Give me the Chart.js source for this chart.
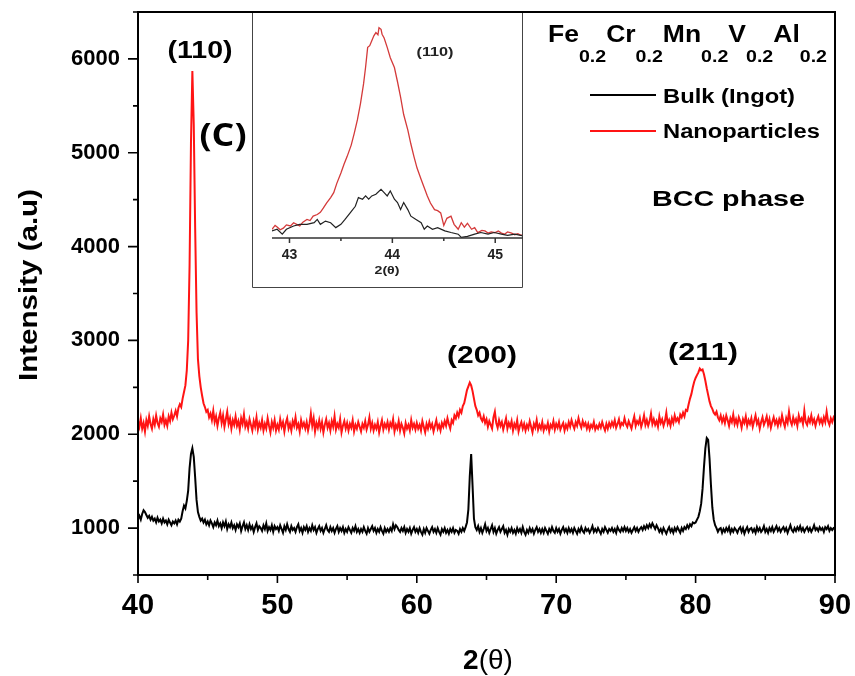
<!DOCTYPE html>
<html>
<head>
<meta charset="utf-8">
<script src="https://cdn.jsdelivr.net/npm/chart.js@4.4.1/dist/chart.umd.min.js"></script>
<style>
  html, body { margin: 0; padding: 0; background: #fff; }
  #wrap { position: relative; width: 855px; height: 676px; }
  #main { position: absolute; left: 0; top: 0; }
  #inset { position: absolute; left: 252px; top: 13px; background: #fff; }
</style>
</head>
<body>
<div id="wrap">
  <canvas id="main" width="855" height="676"></canvas>
  <canvas id="inset" width="271" height="275"></canvas>
</div>
<script>
// scan grid of the main pattern: 2theta from 40 to 90 in 0.1 deg steps
const scanStart = 40;
const scanStep = 0.1;

// Bulk (Ingot), one row per degree
const bulkCounts = [
  1100, 1130, 1090, 1150, 1190, 1170, 1140, 1110, 1130, 1090,
  1120, 1080, 1100, 1060, 1110, 1070, 1090, 1050, 1100, 1060,
  1080, 1040, 1090, 1060, 1030, 1070, 1050, 1080, 1040, 1090,
  1070, 1100, 1180, 1240, 1210, 1290, 1400, 1640, 1790, 1850,
  1760, 1540, 1300, 1170, 1120, 1080, 1100, 1060, 1090, 1040,
  1070, 1030, 1080, 1050, 1010, 1060, 1030, 1080, 1020, 1050,
  1000, 1060, 1020, 1070, 990, 1040, 1010, 1060, 1000, 1030,
  980, 1040, 1010, 1050, 970, 1020, 1060, 990, 1030, 980,
  1040, 990, 1020, 960, 1010, 1050, 980, 1020, 1000, 970,
  1030, 990, 1050, 970, 1010, 980, 1030, 960, 1020, 990,
  1010, 970, 1030, 990, 950, 1020, 980, 1040, 990, 960,
  1020, 980, 1000, 960, 1010, 1040, 970, 1000, 950, 1010,
  980, 1020, 960, 1000, 970, 1030, 980, 1010, 950, 990,
  1020, 970, 1000, 950, 990, 1030, 980, 960, 1010, 970,
  1000, 950, 990, 1020, 960, 1000, 970, 1010, 950, 990,
  960, 1010, 980, 950, 1000, 970, 1020, 960, 990, 950,
  990, 960, 1010, 970, 940, 1000, 960, 990, 1020, 970,
  1000, 950, 990, 960, 1010, 970, 940, 1000, 960, 990,
  960, 1000, 970, 1040, 990, 1030, 1010, 980, 960, 1000,
  970, 1010, 950, 990, 960, 1000, 940, 980, 1010, 960,
  990, 950, 1000, 960, 930, 990, 950, 1000, 970, 940,
  980, 1010, 960, 990, 950, 1000, 960, 930, 990, 960,
  1000, 950, 980, 940, 990, 960, 1000, 950, 980, 970,
  940, 990, 960, 1000, 970, 1010, 1060, 1200, 1550, 1790,
  1450, 1100, 1010, 980, 1020, 960, 1000, 950, 990, 1040,
  970, 1000, 950, 990, 1030, 960, 1000, 940, 980, 1010,
  960, 990, 1020, 950, 980, 930, 990, 960, 1000, 950,
  980, 940, 1000, 960, 990, 950, 1010, 960, 930, 980,
  950, 1000, 960, 990, 940, 980, 1010, 960, 990, 950,
  990, 950, 1000, 970, 940, 990, 960, 1010, 970, 950,
  1000, 960, 990, 940, 980, 1010, 960, 990, 950, 1000,
  960, 990, 950, 1000, 970, 940, 990, 960, 1010, 970,
  950, 1000, 970, 990, 950, 980, 1020, 960, 990, 960,
  1000, 970, 940, 990, 960, 1010, 980, 950, 990, 970,
  1000, 960, 990, 950, 1010, 980, 960, 1000, 970, 1010,
  970, 1000, 960, 990, 950, 980, 1010, 970, 1000, 960,
  990, 1010, 980, 1020, 990, 1030, 1000, 1040, 1010, 1050,
  1020, 990, 1030, 1000, 960, 990, 950, 1000, 970, 940,
  980, 1010, 960, 990, 950, 1000, 970, 1010, 980, 950,
  1000, 970, 1010, 990, 1030, 1000, 1040, 1020, 1060, 1050,
  1060, 1090, 1120, 1180, 1260, 1420, 1650, 1850, 1960, 1940,
  1740, 1460, 1220, 1090, 1030, 1000, 960, 990, 1000, 950,
  990, 960, 1000, 970, 1010, 950, 990, 960, 1000, 980,
  950, 990, 1010, 960, 1000, 940, 980, 1010, 960, 990,
  1000, 960, 990, 950, 1010, 970, 1000, 960, 980, 1020,
  960, 990, 950, 1000, 970, 1010, 960, 990, 1020, 970,
  1000, 960, 990, 1010, 970, 1000, 950, 990, 1030, 980,
  960, 1000, 970, 1010, 980, 1020, 970, 1000, 960, 990,
  1010, 970, 1000, 960, 990, 1030, 980, 1000, 970, 1010,
  980, 1000, 960, 1010, 990, 1020, 970, 1000, 980, 1000,
  990
];

// Nanoparticles
const nanoCounts = [
  2140, 2080, 2170, 2060, 2120, 2030, 2150, 2090, 2190, 2110,
  2060, 2160, 2100, 2200, 2120, 2080, 2170, 2130, 2210, 2100,
  2150, 2090, 2190, 2140, 2230, 2160, 2200, 2250, 2190, 2280,
  2320, 2290, 2380, 2450, 2520, 2680, 3000, 3800, 5100, 5870,
  5300, 4200, 3300, 2800, 2620, 2500, 2410, 2330, 2290, 2240,
  2260, 2180, 2220, 2150, 2250, 2130, 2190, 2090, 2170, 2230,
  2120, 2200, 2080, 2160, 2240, 2110, 2170, 2060, 2150, 2100,
  2190, 2090, 2140, 2050, 2170, 2110, 2210, 2080, 2130, 2060,
  2160, 2100, 2040, 2140, 2080, 2180, 2050, 2120, 2070, 2150,
  2040, 2110, 2060, 2170, 2090, 2020, 2130, 2070, 2150, 2040,
  2100, 2050, 2160, 2080, 2130, 2030, 2120, 2170, 2060, 2110,
  2040, 2140, 2090, 2180, 2070, 2110, 2030, 2150, 2080, 2120,
  2060, 2130, 2040, 2110, 2220, 2090, 2170, 2030, 2120, 2070,
  2150, 2060, 2130, 2020, 2100, 2160, 2070, 2120, 2040, 2140,
  2080, 2190, 2050, 2110, 2070, 2160, 2020, 2090, 2140, 2060,
  2120, 2040, 2110, 2070, 2150, 2030, 2100, 2060, 2130, 2080,
  2030, 2110, 2070, 2140, 2050, 2100, 2180, 2060, 2120, 2040,
  2100, 2060, 2130, 2020, 2090, 2150, 2050, 2110, 2070, 2130,
  2050, 2120, 2080, 2160, 2030, 2100, 2060, 2140, 2040, 2110,
  2070, 2010, 2120, 2060, 2100, 2040, 2150, 2070, 2110, 2050,
  2120, 2060, 2100, 2040, 2140, 2080, 2020, 2110, 2060, 2130,
  2070, 2110, 2030, 2090, 2150, 2060, 2100, 2040, 2120, 2080,
  2140, 2090, 2170, 2110, 2060, 2150, 2120, 2200, 2170, 2230,
  2190, 2260, 2230, 2300, 2330, 2400, 2470, 2510, 2550, 2520,
  2460, 2380, 2300, 2260, 2200, 2230, 2170, 2140, 2190, 2120,
  2160, 2080, 2140, 2100, 2060, 2180, 2240, 2120, 2070, 2150,
  2090, 2130, 2050, 2110, 2170, 2060, 2120, 2080, 2140, 2040,
  2110, 2070, 2150, 2030, 2090, 2130, 2060, 2110, 2040, 2100,
  2060, 2140, 2080, 2020, 2110, 2070, 2150, 2050, 2100, 2060,
  2130, 2040, 2090, 2060, 2120, 2030, 2100, 2070, 2140, 2050,
  2110, 2070, 2130, 2050, 2090, 2120, 2040, 2100, 2060, 2130,
  2080, 2150, 2100, 2060, 2130, 2090, 2170, 2110, 2070, 2140,
  2090, 2120, 2060, 2110, 2050, 2100, 2070, 2130, 2050, 2090,
  2060, 2110, 2070, 2130, 2080, 2040, 2110, 2060, 2120, 2080,
  2130, 2090, 2150, 2070, 2110, 2160, 2080, 2120, 2100, 2170,
  2110, 2080, 2140, 2100, 2060, 2130, 2190, 2090, 2140, 2110,
  2170, 2080, 2130, 2200, 2100, 2150, 2090, 2140, 2220, 2110,
  2160, 2100, 2140, 2080, 2190, 2120, 2160, 2090, 2140, 2230,
  2110, 2150, 2090, 2170, 2120, 2200, 2140, 2170, 2130, 2210,
  2180, 2230, 2190, 2260, 2250, 2320, 2380, 2430, 2500, 2560,
  2600, 2630, 2660, 2700, 2680, 2690, 2640, 2570, 2490, 2420,
  2350, 2300, 2270, 2230, 2210, 2240, 2180, 2150, 2200, 2130,
  2180, 2120, 2200, 2150, 2090, 2170, 2130, 2210, 2110, 2160,
  2100, 2180, 2140, 2070, 2160, 2120, 2190, 2090, 2150, 2110,
  2170, 2080, 2140, 2200, 2110, 2150, 2060, 2130, 2180, 2100,
  2140, 2190, 2100, 2160, 2070, 2130, 2180, 2110, 2150, 2090,
  2160, 2110, 2200, 2130, 2080, 2170, 2120, 2240, 2140, 2100,
  2180, 2120, 2160, 2090, 2200, 2140, 2170, 2110, 2250, 2130,
  2100, 2170, 2130, 2200, 2120, 2160, 2090, 2150, 2190, 2120,
  2160, 2110, 2180, 2130, 2240, 2140, 2100, 2170, 2130, 2180,
  2150
];

const xTicks = [40, 45, 50, 55, 60, 65, 70, 75, 80, 85, 90];
const yTicks = [500, 1000, 1500, 2000, 2500, 3000, 3500, 4000, 4500, 5000, 5500, 6000, 6500];

// inset: zoom on the (110) reflection
const insetThetaNano = [
  42.83, 42.86, 42.88, 42.91, 42.94, 42.97, 43.01, 43.04, 43.07, 43.10,
  43.13, 43.17, 43.20, 43.23, 43.27, 43.30, 43.33, 43.36, 43.40, 43.43,
  43.46, 43.50, 43.53, 43.56, 43.60, 43.63, 43.66, 43.69, 43.72, 43.74,
  43.76, 43.78, 43.80, 43.82, 43.84, 43.86, 43.87, 43.89, 43.90, 43.92,
  43.95, 43.98, 44.02, 44.05, 44.08, 44.11, 44.15, 44.18, 44.21, 44.24,
  44.28, 44.31, 44.34, 44.37, 44.41, 44.44, 44.47, 44.50, 44.53, 44.57,
  44.60, 44.64, 44.67, 44.70, 44.73, 44.77, 44.80, 44.83, 44.87, 44.90,
  44.93, 44.96, 45.00, 45.03, 45.06, 45.09, 45.12, 45.16, 45.19, 45.22,
  45.25, 45.27
];
const insetNano = [
  1060, 1130, 1100, 1050, 1080, 1140, 1120, 1180, 1150, 1120,
  1190, 1240, 1220, 1300, 1330, 1370, 1450, 1540, 1640, 1730,
  1900, 2090, 2250, 2390, 2600, 2820, 3060, 3360, 3720, 4030,
  4390, 4420, 4510, 4600, 4660, 4620, 4750, 4720, 4630, 4560,
  4390, 4200, 4020, 3760, 3480, 3160, 2880, 2620, 2390, 2180,
  1970, 1820, 1670, 1540, 1420, 1400, 1360, 1130, 1260, 1300,
  1150, 1060, 1180, 1100, 1170, 1060, 1090, 1000, 1040, 1030,
  990, 1010, 1000, 1030, 990, 970, 1010, 990, 960, 980,
  950, 960
];
const insetThetaBulk = [
  42.83, 42.88, 42.93, 42.97, 43.04, 43.10, 43.17, 43.24, 43.27, 43.30,
  43.35, 43.40, 43.45, 43.50, 43.54, 43.59, 43.64, 43.67, 43.71, 43.74,
  43.77, 43.80, 43.84, 43.89, 43.92, 43.95, 43.98, 44.02, 44.05, 44.08,
  44.11, 44.15, 44.18, 44.23, 44.28, 44.31, 44.34, 44.39, 44.44, 44.51,
  44.57, 44.64, 44.67, 44.73, 44.80, 44.86, 44.93, 44.99, 45.06, 45.12,
  45.19, 45.27
];
const insetBulk = [
  1030, 1060, 970, 1060, 1120, 1150, 1150, 1180, 1240, 1150,
  1210, 1180, 1090, 1150, 1240, 1360, 1480, 1640, 1610, 1670,
  1610, 1670, 1700, 1790, 1730, 1670, 1760, 1610, 1550, 1420,
  1550, 1420, 1300, 1240, 1180, 1060, 1120, 1060, 1090, 1030,
  1000, 970, 910, 930, 970, 1000, 970, 1000, 970, 950,
  970, 940
];
const insetTicks = [43, 43.5, 44, 44.5, 45];

const seriesNames = ['Bulk (Ingot)', 'Nanoparticles'];
const peakNames = ['(110)', '(200)', '(211)'];
const formulaParts = [['Fe', '0.2'], ['Cr', '0.2'], ['Mn', '0.2'], ['V', '0.2'], ['Al', '0.2']];

const SANS = "'Liberation Sans', Arial, sans-serif";
const NARROW = "'Liberation Sans Narrow', 'Arial Narrow', 'Liberation Sans', sans-serif";
const RED = '#ff1414';

// draws text squeezed/stretched horizontally to a given width
function fitText(ctx, text, x, y, font, width, align) {
    ctx.save();
    ctx.font = font;
    const w = ctx.measureText(text).width;
    const sx = width ? width / w : 1;
    ctx.translate(x, y);
    ctx.scale(sx, 1);
    ctx.textAlign = align || 'center';
    ctx.textBaseline = 'middle';
    ctx.fillText(text, 0, 0);
    ctx.restore();
}

// keep the plot box where the picture has it: no extra room for end labels
function noEdgePadding(s) {
    s.paddingLeft = 0;
    s.paddingRight = 0;
    s.paddingTop = 0;
    s.paddingBottom = 0;
}

const mainDecor = {
    id: 'mainDecor',
    afterDraw(chart) {
        const { ctx, chartArea: a } = chart;
        const xs = chart.scales.x, ys = chart.scales.y;
        ctx.save();
        ctx.fillStyle = '#000';
        ctx.strokeStyle = '#000';

        // frame + ticks
        ctx.lineWidth = 2;
        ctx.strokeRect(a.left, a.top, a.right - a.left, a.bottom - a.top);
        ctx.lineWidth = 1.6;
        ctx.beginPath();
        xTicks.forEach(v => {
            const px = xs.getPixelForValue(v);
            ctx.moveTo(px, a.bottom);
            ctx.lineTo(px, a.bottom + (v % 10 === 0 ? 8 : 5));
        });
        yTicks.forEach(v => {
            const py = ys.getPixelForValue(v);
            ctx.moveTo(a.left, py);
            ctx.lineTo(a.left - (v % 1000 === 0 ? 10 : 5), py);
        });
        ctx.stroke();

        // axis titles
        ctx.save();
        ctx.translate(30, 285);
        ctx.rotate(-Math.PI / 2);
        fitText(ctx, 'Intensity (a.u)', 0, 0, 'bold 25px ' + SANS, 192);
        ctx.restore();

        ctx.font = 'bold 28px ' + NARROW;
        const w2 = ctx.measureText('2').width;
        ctx.font = '28px ' + NARROW;
        const wt = ctx.measureText('(θ)').width;
        const tx = 488 - (w2 + wt) / 2;
        ctx.textAlign = 'left';
        ctx.textBaseline = 'middle';
        ctx.font = 'bold 28px ' + NARROW;
        ctx.fillText('2', tx, 661);
        ctx.font = '28px ' + NARROW;
        ctx.fillText('(θ)', tx + w2, 661);

        // peak labels
        fitText(ctx, peakNames[0], 200, 52, 'bold 23px ' + SANS, 65);
        fitText(ctx, peakNames[1], 482, 357, 'bold 23px ' + SANS, 70);
        fitText(ctx, peakNames[2], 703, 354, 'bold 23px ' + SANS, 70);
        fitText(ctx, '(C)', 223, 137, "bold 32px 'Open Sans', sans-serif", 47);

        // formula with subscripts
        const mainFont = 'bold 23px ' + SANS, subFont = 'bold 17px ' + SANS;
        let total = 0;
        formulaParts.forEach(([el, sub]) => {
            ctx.font = mainFont; total += ctx.measureText(el).width;
            ctx.font = subFont; total += ctx.measureText(sub).width;
        });
        ctx.save();
        ctx.translate(548, 0);
        ctx.scale(279 / total, 1);
        ctx.textBaseline = 'alphabetic';
        ctx.textAlign = 'left';
        let cx = 0;
        formulaParts.forEach(([el, sub]) => {
            ctx.font = mainFont; ctx.fillText(el, cx, 42); cx += ctx.measureText(el).width;
            ctx.font = subFont; ctx.fillText(sub, cx, 62); cx += ctx.measureText(sub).width;
        });
        ctx.restore();

        // legend
        ctx.lineWidth = 2;
        ctx.strokeStyle = '#000';
        ctx.beginPath(); ctx.moveTo(590, 95); ctx.lineTo(656, 95); ctx.stroke();
        ctx.strokeStyle = RED;
        ctx.beginPath(); ctx.moveTo(590, 131); ctx.lineTo(656, 131); ctx.stroke();
        fitText(ctx, seriesNames[0], 663, 97, 'bold 20px ' + SANS, 132, 'left');
        fitText(ctx, seriesNames[1], 663, 132, 'bold 20px ' + SANS, 157, 'left');

        fitText(ctx, 'BCC phase', 652, 200, 'bold 22px ' + SANS, 153, 'left');
        ctx.restore();
    }
};

new Chart(document.getElementById('main'), {
    type: 'line',
    data: {
        datasets: [
            {
                label: seriesNames[0],
                data: bulkCounts.map((c, i) => ({ x: scanStart + i * scanStep, y: c })),
                borderColor: '#000',
                borderWidth: 2,
                pointRadius: 0,
                tension: 0
            },
            {
                label: seriesNames[1],
                data: nanoCounts.map((c, i) => ({ x: scanStart + i * scanStep, y: c })),
                borderColor: RED,
                borderWidth: 2,
                pointRadius: 0,
                tension: 0
            }
        ]
    },
    options: {
        responsive: false,
        animation: false,
        devicePixelRatio: 1,
        layout: { padding: { left: 0, right: 20, top: 12, bottom: 0 } },
        plugins: { legend: { display: false }, tooltip: { enabled: false } },
        scales: {
            x: {
                type: 'linear', min: 40, max: 90,
                afterBuildTicks: s => { s.ticks = xTicks.map(v => ({ value: v })); },
                afterFit: s => { s.height = 101; noEdgePadding(s); },
                grid: { display: false, drawTicks: false },
                border: { display: false },
                ticks: {
                    autoSkip: false, maxRotation: 0, padding: 14, color: '#000',
                    font: { family: NARROW, size: 29, weight: 'bold' },
                    callback: v => (v % 10 === 0 ? String(v) : '')
                }
            },
            y: {
                min: 500, max: 6500,
                afterBuildTicks: s => { s.ticks = yTicks.map(v => ({ value: v })); },
                afterFit: s => { s.width = 138; noEdgePadding(s); },
                grid: { display: false, drawTicks: false },
                border: { display: false },
                ticks: {
                    autoSkip: false, padding: 18, color: '#000',
                    font: { family: SANS, size: 22, weight: 'bold' },
                    callback: v => (v % 1000 === 0 && v >= 1000 && v <= 6000 ? String(v) : '')
                }
            }
        }
    },
    plugins: [mainDecor]
});

const insetDecor = {
    id: 'insetDecor',
    afterDraw(chart) {
        const { ctx, chartArea: a, width, height } = chart;
        const xs = chart.scales.x;
        ctx.save();
        ctx.strokeStyle = '#444';
        ctx.lineWidth = 1;
        ctx.beginPath();
        ctx.moveTo(0.5, 0); ctx.lineTo(0.5, height - 0.5);
        ctx.lineTo(width - 0.5, height - 0.5); ctx.lineTo(width - 0.5, 0);
        ctx.stroke();

        ctx.strokeStyle = '#333';
        ctx.lineWidth = 1.5;
        ctx.beginPath();
        ctx.moveTo(a.left, a.bottom); ctx.lineTo(a.right, a.bottom);
        insetTicks.forEach(v => {
            const px = xs.getPixelForValue(v);
            ctx.moveTo(px, a.bottom);
            ctx.lineTo(px, a.bottom + (v % 1 === 0 ? 5 : 3));
        });
        ctx.stroke();

        ctx.fillStyle = '#222';
        fitText(ctx, '2(θ)', 135, 258, 'bold 11px ' + SANS, 25);
        fitText(ctx, peakNames[0], 183, 39, 'bold 13px ' + SANS, 37);
        ctx.restore();
    }
};

new Chart(document.getElementById('inset'), {
    type: 'line',
    data: {
        datasets: [
            {
                label: seriesNames[0],
                data: insetBulk.map((c, i) => ({ x: insetThetaBulk[i], y: c })),
                borderColor: '#222',
                borderWidth: 1.2,
                pointRadius: 0,
                tension: 0
            },
            {
                label: seriesNames[1],
                data: insetNano.map((c, i) => ({ x: insetThetaNano[i], y: c })),
                borderColor: '#d43a3a',
                borderWidth: 1.3,
                pointRadius: 0,
                tension: 0
            }
        ]
    },
    options: {
        responsive: false,
        animation: false,
        devicePixelRatio: 1,
        layout: { padding: { left: 20, right: 0, top: 1, bottom: 0 } },
        plugins: { legend: { display: false }, tooltip: { enabled: false } },
        scales: {
            x: {
                type: 'linear', min: 42.83, max: 45.27,
                afterBuildTicks: s => { s.ticks = insetTicks.map(v => ({ value: v })); },
                afterFit: s => { s.height = 50; noEdgePadding(s); },
                grid: { display: false, drawTicks: false },
                border: { display: false },
                ticks: {
                    autoSkip: false, maxRotation: 0, padding: 9, color: '#222',
                    font: { family: SANS, size: 14, weight: 'bold' },
                    callback: v => (v % 1 === 0 ? String(v) : '')
                }
            },
            y: { display: false, min: 900, max: 5000 }
        }
    },
    plugins: [insetDecor]
});
</script>
</body>
</html>
